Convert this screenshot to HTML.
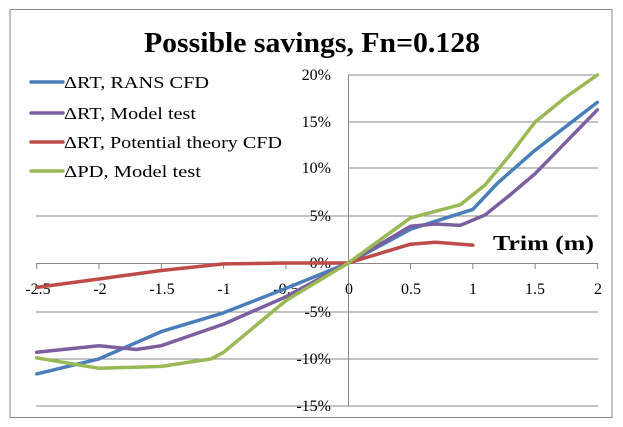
<!DOCTYPE html>
<html><head><meta charset="utf-8"><style>
html,body{margin:0;padding:0;background:#fff;}
svg{display:block;}
text{font-family:"Liberation Serif",serif;}
</style></head><body>
<svg width="623" height="427" viewBox="0 0 623 427">
<rect x="0" y="0" width="623" height="427" fill="#fff"/>
<rect x="10" y="9.5" width="602" height="408" fill="#fff" stroke="#888" stroke-width="1"/>
<text x="144" y="52" font-size="28" font-weight="bold" textLength="336" lengthAdjust="spacingAndGlyphs">Possible savings, Fn=0.128</text>
<g stroke="#888" stroke-width="1">
<line x1="348" y1="75" x2="598" y2="75"/>
<line x1="348" y1="122" x2="598" y2="122"/>
<line x1="348" y1="168" x2="598" y2="168"/>
<line x1="36" y1="216" x2="598" y2="216"/>
<line x1="36" y1="312" x2="598" y2="312"/>
<line x1="36" y1="359" x2="598" y2="359"/>
<line x1="36" y1="406" x2="598" y2="406"/>
<line x1="348.5" y1="75" x2="348.5" y2="406"/>
<line x1="36" y1="263.5" x2="598" y2="263.5"/>
<line x1="36.7" y1="263" x2="36.7" y2="269"/><line x1="99" y1="263" x2="99" y2="269"/>
<line x1="161.3" y1="263" x2="161.3" y2="269"/><line x1="223.6" y1="263" x2="223.6" y2="269"/>
<line x1="285.9" y1="263" x2="285.9" y2="269"/><line x1="410.5" y1="263" x2="410.5" y2="269"/>
<line x1="472.8" y1="263" x2="472.8" y2="269"/><line x1="535.1" y1="263" x2="535.1" y2="269"/>
<line x1="597.4" y1="263" x2="597.4" y2="269"/>
</g>
<g font-size="16" text-anchor="end">
<text x="331" y="80">20%</text><text x="331" y="127">15%</text><text x="331" y="173">10%</text>
<text x="331" y="221">5%</text><text x="331" y="268">0%</text><text x="331" y="317">-5%</text>
<text x="331" y="364">-10%</text><text x="331" y="411">-15%</text>
</g>
<g font-size="16" text-anchor="middle">
<text x="38" y="294">-2.5</text><text x="100" y="294">-2</text><text x="162" y="294">-1.5</text>
<text x="224" y="294">-1</text><text x="286" y="294">-0.5</text><text x="349" y="294">0</text>
<text x="411" y="294">0.5</text><text x="473" y="294">1</text><text x="535" y="294">1.5</text>
<text x="598" y="294">2</text>
</g>
<text x="493" y="250" font-size="21" font-weight="bold" textLength="101" lengthAdjust="spacingAndGlyphs">Trim (m)</text>
<g fill="none" stroke-width="3.5" stroke-linejoin="round" stroke-linecap="round">
<polyline stroke="#4a7ebb" points="36.7,373.9 99,358.9 161.3,331.6 223.6,312.8 285.9,288.4 348.2,263 410.5,229.2 472.8,209.4 497.7,183 535.1,150.2 597.4,102.3"/>
<polyline stroke="#7d5fa0" points="36.7,352.3 99,345.7 136.4,349.5 161.3,345.7 223.6,324.1 285.9,296.8 348.2,263 410.5,226.3 435.4,224 460.3,225.4 485,215 510,195 535.1,173.7 597.4,109.8"/>
<polyline stroke="#be4b48" points="36.7,287.4 99,279 161.3,270.5 223.6,263.9 285.9,263 348.2,263 410.5,244.2 435.4,242.3 472.8,245.1"/>
<polyline stroke="#98b954" points="36.7,357.9 99,368.3 161.3,366.4 211.1,358.9 223.6,352.3 285.9,300.6 348.2,263 410.5,217.9 460.3,204.7 485,185 510,155 535.1,122 566,97 597.4,75"/>
</g>
<g stroke-width="3.5" stroke-linecap="round">
<line x1="31" y1="82" x2="63" y2="82" stroke="#4a7ebb"/>
<line x1="31" y1="113" x2="63" y2="113" stroke="#7d5fa0"/>
<line x1="31" y1="142" x2="63" y2="142" stroke="#be4b48"/>
<line x1="31" y1="171" x2="63" y2="171" stroke="#98b954"/>
</g>
<g font-size="17">
<text x="64" y="88" textLength="145" lengthAdjust="spacingAndGlyphs">ΔRT, RANS CFD</text>
<text x="64" y="119" textLength="132" lengthAdjust="spacingAndGlyphs">ΔRT, Model test</text>
<text x="64" y="148" textLength="218" lengthAdjust="spacingAndGlyphs">ΔRT, Potential theory CFD</text>
<text x="64" y="177" textLength="137" lengthAdjust="spacingAndGlyphs">ΔPD, Model test</text>
</g>
</svg>
</body></html>
